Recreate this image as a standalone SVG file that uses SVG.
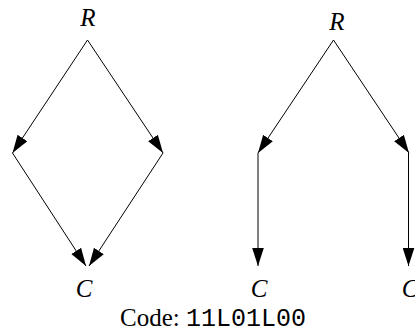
<svg xmlns="http://www.w3.org/2000/svg" width="415" height="333" viewBox="0 0 415 333">
<style>
.lbl{font-style:italic;font-size:25px;fill:#000;text-anchor:middle}
.edge{stroke:#000;stroke-width:1;fill:none}
.cap{font-size:25px;fill:#000}
</style>
<defs>
<marker id="ah" markerUnits="userSpaceOnUse" markerWidth="18" markerHeight="12" refX="17" refY="5.5" orient="auto" viewBox="0 0 17 11">
<path d="M0,0 L17,5.5 L0,11 z" fill="#000"/>
</marker>
</defs>
<g id="R1"><text class="lbl" font-family="Liberation Serif, Times New Roman, DejaVu Serif, serif" x="88" y="26">R</text></g>
<g id="C1"><text class="lbl" font-family="Liberation Serif, Times New Roman, DejaVu Serif, serif" x="84" y="297">C</text></g>
<g id="R2"><text class="lbl" font-family="Liberation Serif, Times New Roman, DejaVu Serif, serif" x="337" y="30">R</text></g>
<g id="C2a"><text class="lbl" font-family="Liberation Serif, Times New Roman, DejaVu Serif, serif" x="259" y="297">C</text></g>
<g id="C2b"><text class="lbl" font-family="Liberation Serif, Times New Roman, DejaVu Serif, serif" x="410" y="297">C</text></g>
<g id="connectors">
<line class="edge" x1="87.5" y1="40" x2="12.5" y2="153" marker-end="url(#ah)"/>
<line class="edge" x1="87.5" y1="40" x2="163" y2="153" marker-end="url(#ah)"/>
<line class="edge" x1="12.5" y1="153" x2="86" y2="266" marker-end="url(#ah)"/>
<line class="edge" x1="163" y1="153" x2="89" y2="266" marker-end="url(#ah)"/>
<line class="edge" x1="333.5" y1="40" x2="258" y2="153" marker-end="url(#ah)"/>
<line class="edge" x1="333.5" y1="40" x2="409" y2="153" marker-end="url(#ah)"/>
<line class="edge" x1="258" y1="153" x2="258" y2="266" marker-end="url(#ah)"/>
<line class="edge" x1="408.5" y1="153" x2="408.5" y2="266" marker-end="url(#ah)"/>
</g>
<g id="code"><text class="cap" font-family="Liberation Serif, Times New Roman, DejaVu Serif, serif" x="120" y="326">Code: <tspan font-family="Liberation Mono, Courier New, DejaVu Sans Mono, monospace">11L01L00</tspan></text></g>
</svg>
